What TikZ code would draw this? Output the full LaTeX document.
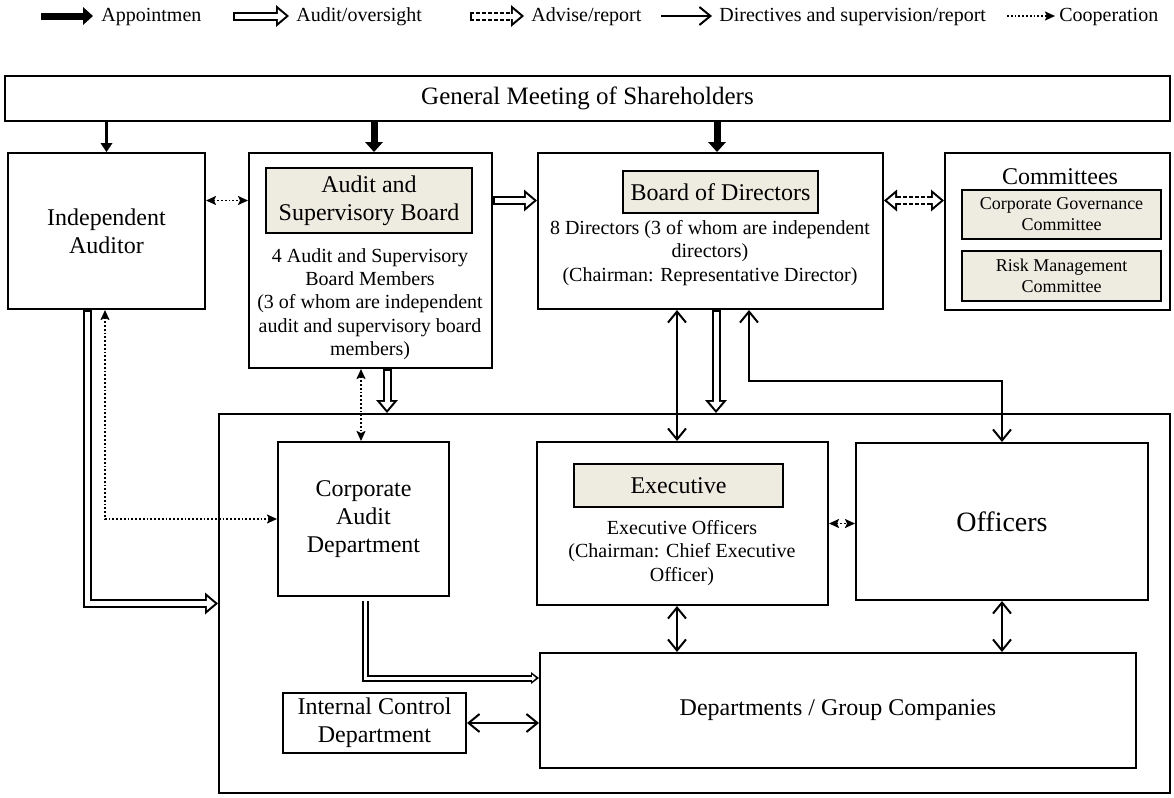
\documentclass[tikz,border=0pt]{standalone}
\usepackage{fontspec}
\setmainfont{Liberation Serif}
\usetikzlibrary{arrows.meta}
\definecolor{hdrfill}{HTML}{EEECE1}

\begin{document}
\begin{tikzpicture}[x=0.5pt, y=-0.5pt,
  box/.style={draw, line width=1pt, inner sep=0pt, align=center, font=\fontsize{12}{14}\selectfont},
  hdr/.style={box, fill=hdrfill},
  txt/.style={align=center, inner sep=0pt, font=\fontsize{10}{11.6}\selectfont},
  legtxt/.style={anchor=west, inner sep=0pt, font=\fontsize{10}{12}\selectfont},
  appoint/.style={line width=3.5pt, -{Triangle[length=5pt,width=9pt,line width=0pt]}},
  coop/.style={line width=0.9pt, densely dotted, >={Stealth[length=5pt,width=4.5pt,inset=1pt]}},
  direct/.style={line width=1pt, >={Straight Barb[length=5.5pt,width=9pt]}},
  hollow/.style={line width=4.5pt, -{Triangle[length=6.5pt,width=11pt,line width=0pt]},
    postaction={draw=white, line width=2.5pt, shorten <=1pt, shorten >=1.6pt,
      -{Triangle[length=4pt,width=6.7pt,line width=0pt]}}},
  hollowthin/.style={line width=3.5pt, -{Triangle[length=4pt,width=6pt,line width=0pt]},
    postaction={draw=white, line width=1.5pt, shorten <=1pt, shorten >=1.5pt,
      -{Triangle[length=2pt,width=3.4pt,line width=0pt]}}},
  advise/.style={line width=4.5pt, dash pattern=on 2pt off 1pt,
    -{Triangle[length=6.5pt,width=11pt,line width=0pt]},
    postaction={draw=white, solid, line width=2.5pt, shorten <=1pt, shorten >=1.6pt,
      -{Triangle[length=4pt,width=6.7pt,line width=0pt]}}},
  adviseboth/.style={line width=4.5pt, dash pattern=on 2pt off 1pt,
    {Triangle[length=6.5pt,width=11pt,line width=0pt]}-{Triangle[length=6.5pt,width=11pt,line width=0pt]},
    postaction={draw=white, solid, line width=2.5pt, shorten <=1.6pt, shorten >=1.6pt,
      {Triangle[length=4pt,width=6.7pt,line width=0pt]}-{Triangle[length=4pt,width=6.7pt,line width=0pt]}}}]
  \useasboundingbox (0,0) rectangle (1174,798);

  % legend
  \coordinate (lga) at (41,16);   \coordinate (lgb) at (93,16);
  \coordinate (lgc) at (233,16);  \coordinate (lgd) at (289,16);
  \coordinate (lge) at (470,16);  \coordinate (lgf) at (524,16);
  \coordinate (lgg) at (661,16);  \coordinate (lgh) at (712,16);
  \coordinate (lgi) at (1007,16); \coordinate (lgj) at (1055,16);
  \draw[appoint] (lga) -- (lgb);
  \draw[hollow] (lgc) -- (lgd);
  \draw[advise] (lge) -- (lgf);
  \draw[direct, ->] (lgg) -- (lgh);
  \draw[coop, ->] (lgi) -- (lgj);
  \node[legtxt] (lg1) at (101,17) {Appointmen};
  \node[legtxt] (lg2) at (296,17) {Audit/oversight};
  \node[legtxt] (lg3) at (531,17) {Advise/report};
  \node[legtxt] (lg4) at (719,17) {Directives and supervision/report};
  \node[legtxt] (lg5) at (1059,17) {Cooperation};

  % boxes
  \node[box, minimum width=582.5pt, minimum height=22.5pt, font=\fontsize{12.5}{14}\selectfont] (gm) at (587.5,98.5) {General Meeting of Shareholders};
  \node[box, minimum width=98.5pt, minimum height=78pt] (ia) at (106.5,231) {Independent\\Auditor};
  \node[box, minimum width=121.5pt, minimum height=107.5pt] (asb) at (370.5,260.5) {};
  \node[hdr, minimum width=103pt, minimum height=32.5pt] (asbh) at (369,200.5) {Audit and\\Supervisory Board};
  \node[txt] (asbt) at (370,304) {4 Audit and Supervisory\\Board Members\\(3 of whom are independent\\audit and supervisory board\\members)};
  \node[box, minimum width=172.5pt, minimum height=78pt] (bod) at (710.5,231) {};
  \node[hdr, minimum width=97.5pt, minimum height=21pt] (bodh) at (720.5,192) {Board of Directors};
  \node[txt] (bodt) at (710,253) {8 Directors (3 of whom are independent\\directors)\\(Chairman: Representative Director)};
  \node[box, minimum width=112.5pt, minimum height=78.5pt] (com) at (1057.5,231.5) {};
  \node[inner sep=0pt, font=\fontsize{12}{14}\selectfont] (comt) at (1060,177) {Committees};
  \node[hdr, minimum width=99.5pt, minimum height=24.5pt, font=\fontsize{9}{10.5}\selectfont] (cg) at (1061.5,214.5) {Corporate Governance\\Committee};
  \node[hdr, minimum width=99.5pt, minimum height=25pt, font=\fontsize{9}{10.5}\selectfont] (rm) at (1061.5,276) {Risk Management\\Committee};
  \node[box, minimum width=475.5pt, minimum height=189.5pt] (ctr) at (694.5,603.5) {};
  \node[box, minimum width=85.5pt, minimum height=77pt] (cad) at (363.5,519) {Corporate\\Audit\\Department};
  \node[box, minimum width=145.5pt, minimum height=81.5pt] (exe) at (682.5,523.5) {};
  \node[hdr, minimum width=104.5pt, minimum height=21.5pt] (exeh) at (678.5,485.5) {Executive};
  \node[txt] (exet) at (682,553) {Executive Officers\\(Chairman: Chief Executive\\Officer)};
  \node[box, minimum width=146pt, minimum height=78.5pt, font=\fontsize{14}{16}\selectfont] (off) at (1002,521.5) {Officers};
  \node[box, minimum width=298pt, minimum height=57.5pt] (dep) at (838,710.5) {Departments / Group Companies};
  \node[box, minimum width=91.5pt, minimum height=30pt] (icd) at (374.5,723) {Internal Control\\Department};

  % appointment
  \draw[appoint, line width=1.6pt, -{Triangle[length=4.5pt,width=6pt,line width=0pt]}] (gm.south -| ia.north) -- (ia.north);
  \draw[appoint] (374,0 |- gm.south) -- (374,0 |- asb.north);
  \draw[appoint] (717,0 |- gm.south) -- (717,0 |- bod.north);

  % top row
  \draw[coop, <->] (ia.east |- asbh.center) -- (asb.west |- asbh.center);
  \draw[hollow] (asb.east |- asbh.center) -- (bod.west |- asbh.center);
  \draw[adviseboth] (bod.east |- asbh.center) -- (com.west |- asbh.center);

  % from audit and supervisory board
  \draw[coop, <->] (361,0 |- asb.south) -- (361,0 |- cad.north);
  \draw[hollow] (387,0 |- asb.south) -- (387,0 |- ctr.north);

  % from independent auditor
  \draw[hollow] (87,0 |- ia.south) |- (ctr.west);
  \draw[coop, <->] (105,0 |- ia.south) |- (cad.west);

  % from board of directors
  \draw[direct, <->] (677,0 |- bod.south) -- (677,0 |- exe.north);
  \draw[hollow] (716,0 |- bod.south) -- (716,0 |- ctr.north);
  \draw[direct, <->] (749,0 |- bod.south) -- (749,381) -| (off.north);

  % inside
  \draw[coop, <->] (exe.east) -- (exe.east -| off.west);
  \draw[direct, <->] (677,0 |- exe.south) -- (677,0 |- dep.north);
  \draw[direct, <->] (off.south) -- (off.south |- dep.north);
  \draw[hollowthin, shorten <=2pt] (365,0 |- cad.south) |- (dep.west |- 0,678);
  \draw[direct, <->] (icd.east) -- (icd.east -| dep.west);
\end{tikzpicture}
\end{document}
